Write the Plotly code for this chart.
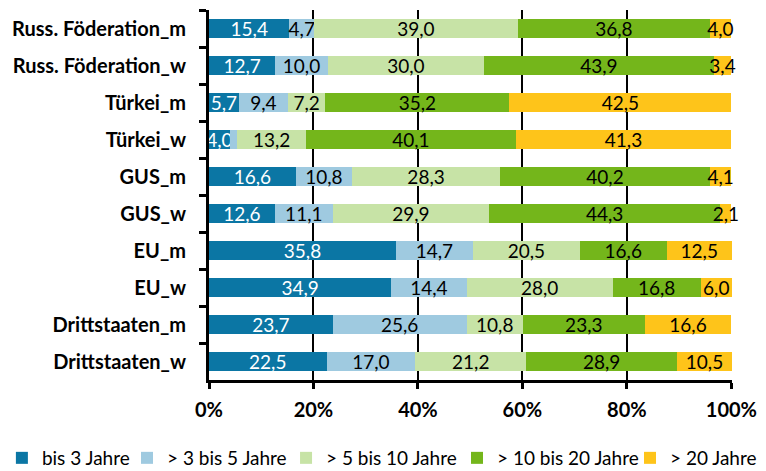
import plotly.graph_objects as go

categories = ["Russ. Föderation_m", "Russ. Föderation_w", "Türkei_m", "Türkei_w",
              "GUS_m", "GUS_w", "EU_m", "EU_w", "Drittstaaten_m", "Drittstaaten_w"]
series_names = ["bis 3 Jahre", "> 3 bis 5 Jahre", "> 5 bis 10 Jahre", "> 10 bis 20 Jahre", "> 20 Jahre"]
bis3 = [15.4, 12.7, 5.7, 4.0, 16.6, 12.6, 35.8, 34.9, 23.7, 22.5]
b3_5 = [4.7, 10.0, 9.4, 1.4, 10.8, 11.1, 14.7, 14.4, 25.6, 17.0]
b5_10 = [39.0, 30.0, 7.2, 13.2, 28.3, 29.9, 20.5, 28.0, 10.8, 21.2]
b10_20 = [36.8, 43.9, 35.2, 40.1, 40.2, 44.3, 16.6, 16.8, 23.3, 28.9]
b20 = [4.0, 3.4, 42.5, 41.3, 4.1, 2.1, 12.5, 6.0, 16.6, 10.5]
series_values = [bis3, b3_5, b5_10, b10_20, b20]
# the small "> 3 bis 5" segment of Türkei_w carries no label in the original
hidden_labels = {(1, 3)}
colors = ["#0b76a4", "#9fcae0", "#c7e3a6", "#74b61b", "#fec41a"]
text_colors = ["white", "black", "black", "black", "black"]
x_ticks = [0, 20, 40, 60, 80, 100]
x_ticklabels = ["0%", "20%", "40%", "60%", "80%", "100%"]

font_family = "Lato, sans-serif"
# one legend box per series so the legend row can span the full width
legend_ids = ["legend", "legend2", "legend3", "legend4", "legend5"]
legend_x = [-0.396, -0.1568, 0.1473, 0.4742, 0.8050]

fig = go.Figure()
for i, (name, vals) in enumerate(zip(series_names, series_values)):
    txt = ["" if (i, j) in hidden_labels else f"{v:.1f}".replace(".", ",")
           for j, v in enumerate(vals)]
    fig.add_trace(go.Bar(
        y=categories, x=vals, name=name, orientation="h",
        marker=dict(color=colors[i], line=dict(width=0)),
        text=txt, textposition="inside", insidetextanchor="middle", textangle=0,
        textfont=dict(color=text_colors[i], size=19, family=font_family),
        cliponaxis=False, hoverinfo="skip", legend=legend_ids[i],
    ))

legend_layout = {}
for lid, lx in zip(legend_ids, legend_x):
    legend_layout[lid] = dict(orientation="h", xref="paper", x=lx, xanchor="left",
                              yref="paper", y=-0.2108, yanchor="middle",
                              font=dict(size=19, family=font_family),
                              itemwidth=30, bgcolor="rgba(0,0,0,0)")

fig.update_layout(
    barmode="stack", bargap=0.46,
    width=758, height=463,
    margin=dict(l=201, r=34, t=2, b=91, autoexpand=False),
    plot_bgcolor="white", paper_bgcolor="white",
    font=dict(family=font_family, size=18, color="black"),
    uniformtext=dict(minsize=19, mode="show"),
    showlegend=True,
    xaxis=dict(range=[0, 100.12], tickvals=x_ticks, ticktext=x_ticklabels,
               showgrid=True, gridcolor="black", gridwidth=1.5,
               showline=True, linecolor="black", linewidth=2.5,
               ticks="outside", ticklen=6, tickwidth=2.5, tickcolor="black",
               ticklabelstandoff=4,
               tickfont=dict(size=20, family=font_family, weight="bold"),
               zeroline=False, automargin=False),
    yaxis=dict(autorange="reversed", showline=True, linecolor="black", linewidth=3,
               ticks="outside", tickson="boundaries", ticklen=7, tickwidth=2.5, tickcolor="black",
               ticklabelstandoff=16,
               tickfont=dict(size=20, family=font_family, weight="bold"),
               showgrid=False, automargin=False),
    **legend_layout,
)

fig.write_html("out.html")
